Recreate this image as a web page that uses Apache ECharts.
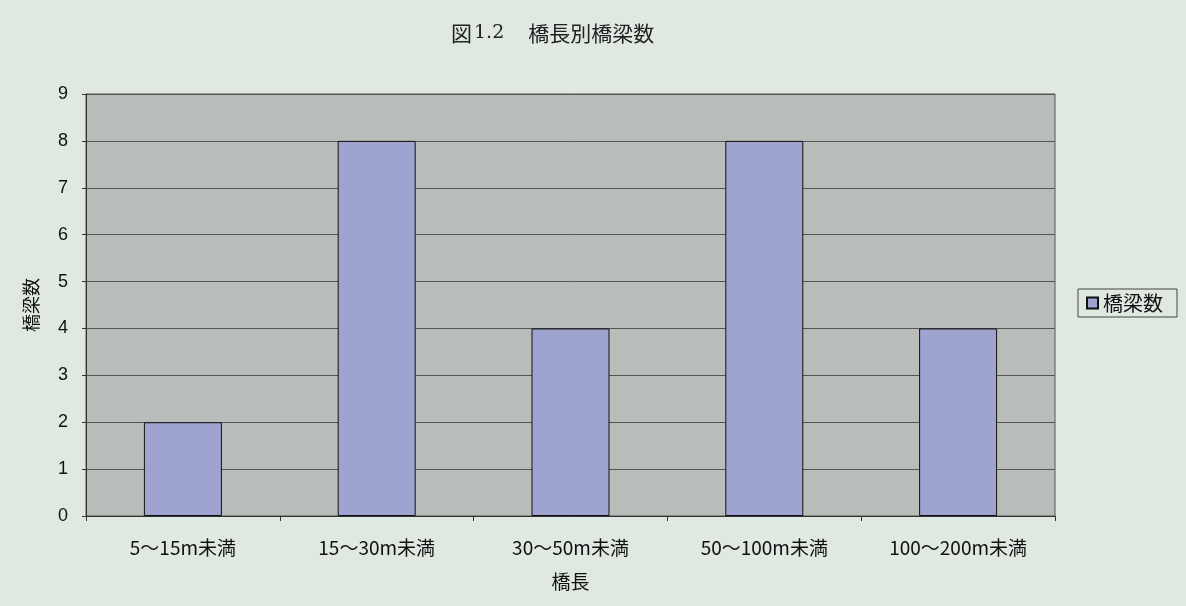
<!DOCTYPE html>
<html>
<head>
<meta charset="utf-8">
<script src="https://cdn.jsdelivr.net/npm/echarts@6/dist/echarts.min.js"></script>
<style>
  html, body { margin: 0; padding: 0; background: #dfe9e2; }
  #main { width: 1186px; height: 606px; }
</style>
</head>
<body>
<div id="main"></div>
<script>
// 橋長の区分と橋梁数
var categories = ['5～15m未満', '15～30m未満', '30～50m未満', '50～100m未満', '100～200m未満'];
var bridgeCounts = [2, 8, 4, 8, 4];
var seriesName = '橋梁数';

var myChart = echarts.init(document.getElementById('main'));
var jp = '"Noto Sans CJK JP", sans-serif';

var option = {
    backgroundColor: '#dfe9e2',
    textStyle: { fontFamily: jp },
    title: {
        text: '{a|図}{b|1.2}{c|橋長別橋梁数}',
        left: 446,
        top: 18,
        textStyle: {
            rich: {
                a: { fontFamily: jp, fontSize: 21, color: '#222', fontWeight: 'normal' },
                b: { fontFamily: '"DejaVu Serif", serif', fontSize: 19, color: '#222', fontWeight: 'normal', padding: [0, 0, 0, 2] },
                c: { fontFamily: jp, fontSize: 21, color: '#222', fontWeight: 'normal', padding: [0, 0, 0, 24] }
            }
        }
    },
    legend: {
        data: [seriesName],
        orient: 'vertical',
        left: 1078,
        top: 289,
        padding: [4, 14, 4, 8],
        borderColor: '#444',
        borderWidth: 1,
        icon: 'rect',
        itemWidth: 11,
        itemHeight: 11,
        itemGap: 4,
        textStyle: { fontFamily: jp, fontSize: 20, color: '#111' }
    },
    grid: {
        left: 86,
        right: 131,
        top: 94,
        bottom: 90,
        show: true,
        backgroundColor: '#b9bdb9',
        borderColor: '#555',
        borderWidth: 1
    },
    xAxis: {
        type: 'category',
        data: categories,
        name: '橋長',
        nameLocation: 'middle',
        nameGap: 56,
        nameTextStyle: { fontFamily: jp, fontSize: 19, color: '#111' },
        axisLine: { lineStyle: { color: '#333' } },
        axisTick: { show: true, length: 5, lineStyle: { color: '#333' } },
        axisLabel: { fontFamily: jp, fontSize: 19, color: '#111', margin: 22 }
    },
    yAxis: {
        type: 'value',
        min: 0,
        max: 9,
        interval: 1,
        name: '橋梁数',
        nameLocation: 'middle',
        nameGap: 46,
        nameRotate: 90,
        nameTextStyle: { fontFamily: jp, fontSize: 18, color: '#111' },
        axisLine: { show: true, lineStyle: { color: '#333' } },
        axisTick: { show: true, length: 4, lineStyle: { color: '#333' } },
        axisLabel: { fontFamily: '"Liberation Sans", sans-serif', fontSize: 18, color: '#111', margin: 18 },
        splitLine: { lineStyle: { color: '#555', width: 1 } }
    },
    series: [
        {
            name: seriesName,
            type: 'bar',
            data: bridgeCounts,
            barWidth: 78,
            itemStyle: {
                color: '#9ea3cf',
                borderColor: '#111',
                borderWidth: 1
            }
        }
    ]
};

myChart.setOption(option);
</script>
</body>
</html>
